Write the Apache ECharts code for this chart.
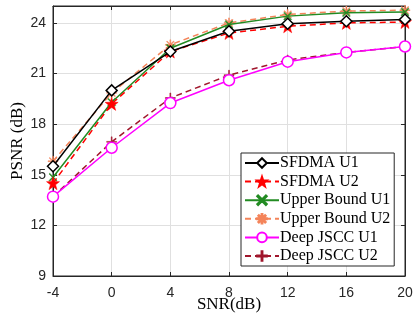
<!DOCTYPE html>
<html><head><meta charset="utf-8">
<script src="https://cdn.jsdelivr.net/npm/echarts@6/dist/echarts.min.js"></script>
<style>html,body{margin:0;padding:0;background:#fff}#c{width:414px;height:320px}</style>
</head><body><div id="c"></div>
<script>
const snr = [-4, 0, 4, 8, 12, 16, 20];
const sfdmaU1 = [15.5, 20.0, 22.3, 23.5, 23.95, 24.1, 24.2];
const sfdmaU2 = [14.5, 19.2, 22.3, 23.4, 23.8, 24.0, 24.05];
const upperU1 = [14.85, 19.3, 22.5, 23.9, 24.4, 24.6, 24.65];
const upperU2 = [15.8, 19.85, 22.7, 24.0, 24.5, 24.7, 24.75];
const jsccU1 = [13.7, 16.6, 19.25, 20.6, 21.7, 22.25, 22.6];
const jsccU2 = [13.7, 16.95, 19.55, 20.9, 21.8, 22.25, 22.6];
const xTicks = [-4, 0, 4, 8, 12, 16, 20];
const yTicks = [9, 12, 15, 18, 21, 24];

const STAR = 'path://M0,-10 L2.35,-3.24 L9.51,-3.09 L3.8,1.24 L5.88,8.09 L0,4 L-5.88,8.09 L-3.8,1.24 L-9.51,-3.09 L-2.35,-3.24 Z';
const PLUS = 'path://M-0.9,-10 L0.9,-10 L0.9,-0.9 L10,-0.9 L10,0.9 L0.9,0.9 L0.9,10 L-0.9,10 L-0.9,0.9 L-10,0.9 L-10,-0.9 L-0.9,-0.9 Z';
const XMARK = 'path://M-7.78,-6.36 L6.36,7.78 L7.78,6.36 L-6.36,-7.78 Z M-7.78,6.36 L6.36,-7.78 L7.78,-6.36 L-6.36,7.78 Z';
const AST = 'path://M-0.9,-10 L0.9,-10 L0.9,10 L-0.9,10 Z M-10,-0.9 L10,-0.9 L10,0.9 L-10,0.9 Z M-7.71,-6.44 L6.44,7.71 L7.71,6.44 L-6.44,-7.71 Z M-7.71,6.44 L6.44,-7.71 L7.71,-6.44 L-6.44,7.71 Z';

function pts(arr){ return snr.map((x,i)=>[x, arr[i]]); }
function ser(name, arr, color, dashed, symbol, size, filled, z){
  return {
    name, type:'line', data: pts(arr), z: z,
    symbol, symbolSize: size,
    lineStyle:{color, width:1.5, type: dashed ? [6,4] : 'solid'},
    itemStyle:{color: filled ? color : '#fff', borderColor: color, borderWidth: filled ? 0.5 : 1.5},
    emphasis:{disabled:true}, animation:false
  };
}

const sans = 'Liberation Sans, Arial, sans-serif';
const serif = 'Liberation Serif, Times New Roman, serif';
const axisCol = '#262626';

const chart = echarts.init(document.getElementById('c'), null, {renderer:'canvas'});
chart.setOption({
  animation:false,
  backgroundColor:'#fff',
  grid:{left:53, right:9, top:6, bottom:44, show:true, borderColor:axisCol, borderWidth:1, backgroundColor:'transparent', containLabel:false, outerBoundsMode:'none'},
  legend:{
    orient:'vertical', left:241, top:153,
    backgroundColor:'#fff', borderColor:axisCol, borderWidth:1,
    padding:[2,4,2,3], itemGap:2.6, itemWidth:34, itemHeight:12,
    textStyle:{fontFamily:serif, fontSize:16, color:'#000', padding:[0,0,0,-4]},
    data:['SFDMA U1','SFDMA U2','Upper Bound U1','Upper Bound U2','Deep JSCC U1','Deep JSCC U2']
  },
  xAxis:[{
    type:'value', min:-4, max:20, interval:4,
    name:'SNR(dB)', nameLocation:'middle', nameGap:29, nameMoveOverlap:false,
    nameTextStyle:{fontFamily:serif, fontSize:17, color:'#000', verticalAlign:'middle'},
    axisLine:{show:true, onZero:false, lineStyle:{color:axisCol}},
    axisTick:{show:true, inside:true, length:4, lineStyle:{color:axisCol}},
    axisLabel:{fontFamily:sans, fontSize:14, color:axisCol, margin:10},
    splitLine:{show:true, lineStyle:{color:'#e0e0e0', width:1}}
  },{
    type:'value', position:'top', min:-4, max:20, interval:4,
    axisLine:{show:true, onZero:false, lineStyle:{color:axisCol}},
    axisTick:{show:true, inside:true, length:4, lineStyle:{color:axisCol}},
    axisLabel:{show:false}, splitLine:{show:false}
  }],
  yAxis:[{
    type:'value', min:9, max:25, interval:3,
    name:'PSNR (dB)', nameLocation:'middle', nameGap:35, nameRotate:90, nameMoveOverlap:false,
    nameTextStyle:{fontFamily:serif, fontSize:17, color:'#000', verticalAlign:'middle'},
    axisLine:{show:true, onZero:false, lineStyle:{color:axisCol}},
    axisTick:{show:true, inside:true, length:4, lineStyle:{color:axisCol}},
    axisLabel:{fontFamily:sans, fontSize:14, color:axisCol, margin:7, showMaxLabel:false},
    splitLine:{show:true, lineStyle:{color:'#e0e0e0', width:1}}
  },{
    type:'value', position:'right', min:9, max:25, interval:3,
    axisLine:{show:true, onZero:false, lineStyle:{color:axisCol}},
    axisTick:{show:true, inside:true, length:4, lineStyle:{color:axisCol}},
    axisLabel:{show:false}, splitLine:{show:false}
  }],
  series:[
    ser('SFDMA U1', sfdmaU1, '#000000', false, 'diamond', 11, false, 6),
    ser('SFDMA U2', sfdmaU2, '#ff0000', true, STAR, 13, true, 5),
    ser('Upper Bound U1', upperU1, '#228b22', false, XMARK, 8, true, 4),
    ser('Upper Bound U2', upperU2, '#f4845a', true, AST, 10, true, 3),
    ser('Deep JSCC U1', jsccU1, '#ff00ff', false, 'circle', 11, false, 2),
    ser('Deep JSCC U2', jsccU2, '#a0162c', true, PLUS, 10, true, 1)
  ]
});
</script></body></html>
